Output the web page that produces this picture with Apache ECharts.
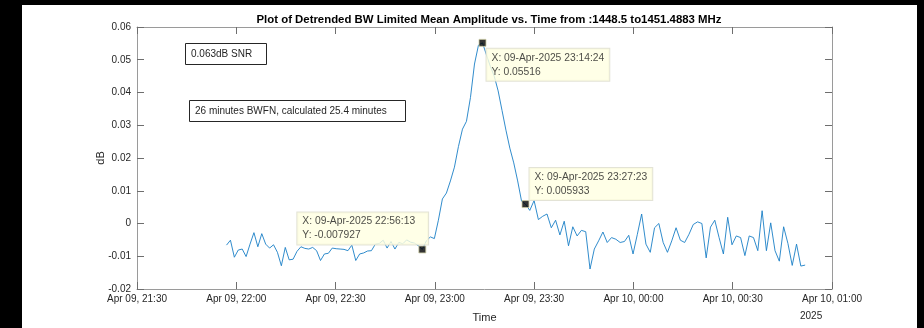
<!DOCTYPE html>
<html>
<head>
<meta charset="utf-8">
<script src="https://cdn.jsdelivr.net/npm/echarts@6/dist/echarts.min.js"></script>
<style>
  html, body { margin: 0; padding: 0; background: #000; }
  #chart { width: 924px; height: 328px; }
</style>
</head>
<body>
<div id="chart"></div>
<script>
// Detrended, bandwidth-limited mean amplitude (dB) of the 1448.5–1451.4883 MHz band.
// Sample times are seconds of the day; the series is split at the three data-tip samples.
const AXIS_START = '21:30:00';          // left edge of the time axis (Apr 09)
const AXIS_SPAN_MIN = 210;               // 21:30 -> 01:00
const TICK_MIN = 30;

const markTimes  = ['22:56:13', '23:14:24', '23:27:23'];
const markValues = [-0.007927, 0.05516, 0.005933];

const preStepSec  = 71;   // sampling before the first tip
const postStepSec = 78;   // sampling after the last tip

// before 22:56:13
const preValues = [
  -0.0066, -0.0051, -0.0103, -0.0081, -0.0078, -0.0101, -0.0063, -0.0028, -0.0071, -0.0031,
  -0.0063, -0.0075, -0.0065, -0.0088, -0.0129, -0.0073, -0.0111, -0.0109, -0.0085, -0.0071,
  -0.0076, -0.0078, -0.0073, -0.0083, -0.0113, -0.0093, -0.0091, -0.0075, -0.0077, -0.0078,
  -0.0079, -0.0083, -0.0066, -0.0113, -0.0093, -0.0090, -0.0084, -0.0083, -0.0063, -0.0061,
  -0.0051, -0.0075, -0.0055, -0.0078, -0.0058, -0.0062, -0.0050, -0.0057, -0.0060, -0.0068
];
// between 22:56:13 and the peak at 23:14:24
const riseValues = [
  -0.0053, -0.0041, -0.0046, 0.0010, 0.0075, 0.0093, 0.0130, 0.0172, 0.0235, 0.0288,
  0.0312, 0.0385, 0.0487, 0.0545
];
// between the peak and 23:27:23
const fallValues = [
  0.0515, 0.0480, 0.0450, 0.0405, 0.0345, 0.0285, 0.0230, 0.0185, 0.0130, 0.0068
];
// after 23:27:23
const postValues = [
  0.0040, 0.0070, 0.0012, 0.0022, 0.0029, -0.0013, 0.0010, -0.0035, 0.0007, -0.0068,
  -0.0010, -0.0038, -0.0021, -0.0025, -0.0139, -0.0078, -0.0053, -0.0026, -0.0058, -0.0043,
  -0.0048, -0.0058, -0.0055, -0.0036, -0.0093, -0.0033, 0.0029, -0.0063, -0.0088, -0.0013,
  0.0000, -0.0058, -0.0088, -0.0053, -0.0013, -0.0051, -0.0058, -0.0033, -0.0003, 0.0005,
  0.0000, -0.0105, -0.0011, 0.0010, -0.0043, -0.0093, 0.0019, -0.0065, -0.0038, -0.0043,
  -0.0098, -0.0038, -0.0043, -0.0083, 0.0039, -0.0083, 0.0002, -0.0083, -0.0115, -0.0010,
  -0.0061, -0.0128, -0.0063, -0.0130, -0.0127
];

const FONT = "'Liberation Sans', Arial, Helvetica, sans-serif";
const TEXT_COLOR = '#262626';
const AXIS_COLOR = '#9a9a9a';

function toSec(hms) {
  const p = hms.split(':').map(Number);
  return p[0] * 3600 + p[1] * 60 + p[2];
}
const t0 = toSec(AXIS_START);
const mins = s => (s - t0) / 60;   // axis coordinate: minutes after 21:30

// assemble [minutes, dB] samples
const marks = markTimes.map(toSec);
const samples = [];
preValues.forEach((v, i) => samples.push([mins(marks[0] - (preValues.length - i) * preStepSec), v]));
samples.push([mins(marks[0]), markValues[0]]);
riseValues.forEach((v, i) => {
  const dt = (marks[1] - marks[0]) / (riseValues.length + 1);
  samples.push([mins(marks[0] + (i + 1) * dt), v]);
});
samples.push([mins(marks[1]), markValues[1]]);
fallValues.forEach((v, i) => {
  const dt = (marks[2] - marks[1]) / (fallValues.length + 1);
  samples.push([mins(marks[1] + (i + 1) * dt), v]);
});
samples.push([mins(marks[2]), markValues[2]]);
postValues.forEach((v, i) => samples.push([mins(marks[2] + (i + 1) * postStepSec), v]));

const pad = n => String(n).padStart(2, '0');
function timeLabel(m) {
  const total = Math.round(toSec(AXIS_START) / 60 + m);
  const day = 9 + Math.floor(total / 1440);
  const mod = total % 1440;
  return 'Apr ' + pad(day) + ', ' + pad(Math.floor(mod / 60)) + ':' + pad(mod % 60);
}

// data tips: box placement around each marker (box corner offsets from the marker)
const tipPlacement = [
  { position: [-121, -1], align: 'left', verticalAlign: 'bottom', padding: [2, 13, 2, 5] },
  { position: [8, 10], align: 'left', verticalAlign: 'top' },
  { position: [8, 0], align: 'left', verticalAlign: 'bottom' }
];
const tipData = markTimes.map((t, i) => ({
  value: [mins(marks[i]), markValues[i]],
  label: Object.assign({
    show: true,
    formatter: 'X: 09-Apr-2025 ' + t + '\nY: ' + markValues[i],
    fontFamily: FONT,
    fontSize: 10.3,
    lineHeight: 14,
    color: '#1a1a1a',
    backgroundColor: '#ffffe1',
    borderColor: '#dcdccc',
    borderWidth: 1,
    padding: [2, 5, 2, 5]
  }, tipPlacement[i])
}));

const axisCommon = {
  type: 'value',
  axisLine: { show: true, onZero: false, lineStyle: { color: AXIS_COLOR, width: 1 } },
  axisTick: { show: true, inside: true, length: 7, lineStyle: { color: '#6e6e6e' } },
  splitLine: { show: false }
};

const chart = echarts.init(document.getElementById('chart'), null, { renderer: 'canvas' });
chart.setOption({
  backgroundColor: '#000',
  animation: false,
  title: {
    text: 'Plot of Detrended BW Limited Mean Amplitude vs. Time from :1448.5 to1451.4883 MHz',
    left: 484, top: 9, textAlign: 'center',
    textStyle: { fontFamily: FONT, fontSize: 11.4, fontWeight: 'bold', color: '#000' }
  },
  graphic: [
    { type: 'rect', z: -10, shape: { x: 22, y: 5, width: 895, height: 323 }, style: { fill: '#fff' } },
    { type: 'rect', z: 10, shape: { x: 185.5, y: 43.5, width: 81, height: 21 },
      style: { fill: '#fff', stroke: '#262626', lineWidth: 1 } },
    { type: 'text', z: 11, x: 191, y: 54,
      style: { text: '0.063dB SNR', font: '10px ' + FONT, fill: TEXT_COLOR, verticalAlign: 'middle' } },
    { type: 'rect', z: 10, shape: { x: 189.5, y: 100.5, width: 216, height: 21 },
      style: { fill: '#fff', stroke: '#262626', lineWidth: 1 } },
    { type: 'text', z: 11, x: 195, y: 111,
      style: { text: '26 minutes BWFN, calculated 25.4 minutes', font: '10px ' + FONT, fill: TEXT_COLOR, verticalAlign: 'middle' } },
    { type: 'text', z: 11, x: 800, y: 316,
      style: { text: '2025', font: '10px ' + FONT, fill: TEXT_COLOR, verticalAlign: 'middle' } }
  ],
  grid: { left: 137, right: 92, top: 27, bottom: 36, show: true, backgroundColor: '#fff', borderWidth: 0 },
  xAxis: [
    Object.assign({}, axisCommon, {
      position: 'bottom', min: 0, max: AXIS_SPAN_MIN, interval: TICK_MIN,
      name: 'Time', nameLocation: 'middle', nameGap: 23, nameMoveOverlap: false,
      nameTextStyle: { fontFamily: FONT, fontSize: 11, color: TEXT_COLOR },
      axisLabel: { fontFamily: FONT, fontSize: 10, color: TEXT_COLOR, margin: 5,
        formatter: v => timeLabel(v) }
    }),
    Object.assign({}, axisCommon, {
      position: 'top', min: 0, max: AXIS_SPAN_MIN, interval: TICK_MIN,
      axisLabel: { show: false }
    })
  ],
  yAxis: [
    Object.assign({}, axisCommon, {
      position: 'left', min: -0.02, max: 0.06, interval: 0.01,
      name: 'dB', nameLocation: 'middle', nameGap: 31, nameRotate: 90, nameMoveOverlap: false,
      nameTextStyle: { fontFamily: FONT, fontSize: 11, color: TEXT_COLOR },
      axisLabel: { fontFamily: FONT, fontSize: 10, color: TEXT_COLOR, margin: 6,
        formatter: v => String(parseFloat(v.toFixed(2))) }
    }),
    Object.assign({}, axisCommon, {
      position: 'right', min: -0.02, max: 0.06, interval: 0.01,
      axisLabel: { show: false }
    })
  ],
  series: [
    {
      type: 'line',
      data: samples,
      showSymbol: false,
      silent: true,
      lineStyle: { color: '#1a7fc6', width: 0.9 },
      z: 2
    },
    {
      type: 'scatter',
      data: tipData,
      symbol: 'rect',
      symbolSize: 7,
      itemStyle: { color: '#000', borderColor: '#cfcfa8', borderWidth: 1 },
      z: 5
    }
  ]
});
</script>
</body>
</html>
